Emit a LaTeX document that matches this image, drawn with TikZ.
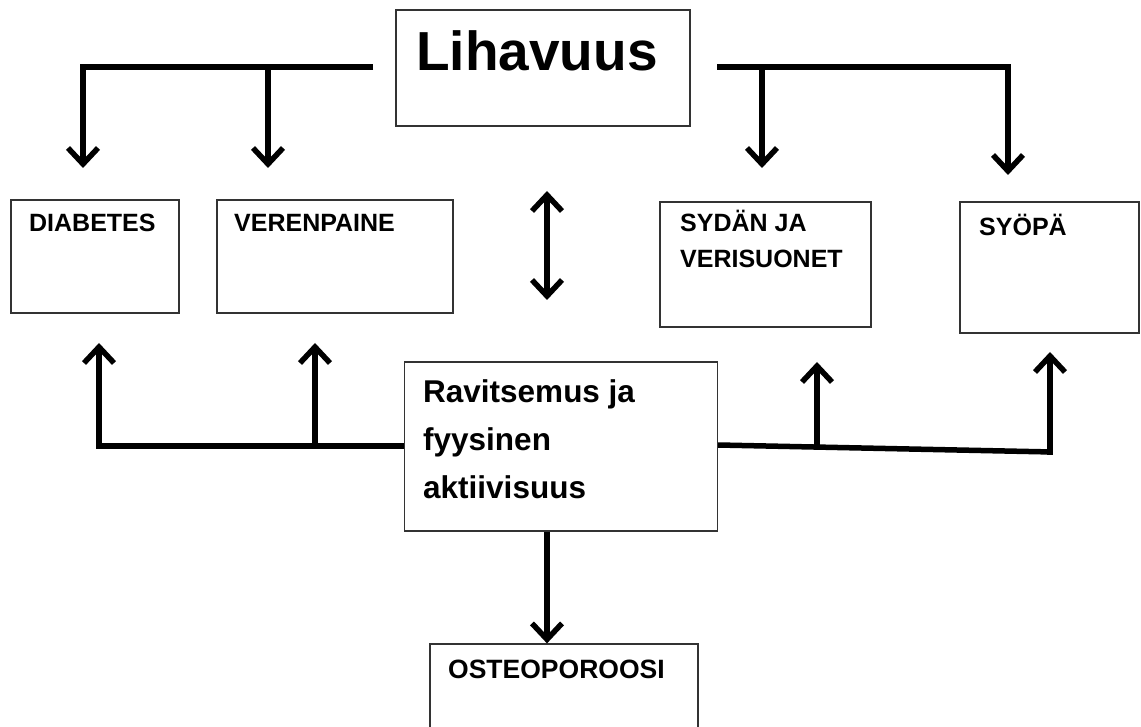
\documentclass[tikz,border=0pt]{standalone}
\usepackage{fontspec}
\setmainfont{Liberation Sans}
\usetikzlibrary{arrows.meta}

\tikzset{
	box/.style={draw=black!80,line width=1.2pt,inner sep=0pt},
	lbl/.style={anchor=base west,inner sep=0pt,font=\bfseries\fontsize{25}{30}\selectfont},
	tip/.tip={Straight Barb[length=16pt,width=30pt,line width=5.5pt]},
	conn/.style={line width=5.5pt,-tip},
	bar/.style={line width=5.5pt}
}

\begin{document}
\begin{tikzpicture}[x=1pt,y=-1pt]
		\useasboundingbox (0,0) rectangle (1141,727);
		% boxes
		\node[box,minimum width=294pt,minimum height=116pt] (liha) at (543,68) {};
		\node[box,minimum width=168pt,minimum height=113pt] (diab) at (95,256.5) {};
		\node[box,minimum width=236pt,minimum height=113pt] (veren) at (335,256.5) {};
		\node[box,minimum width=211pt,minimum height=125pt] (sydan) at (765.5,264.5) {};
		\node[box,minimum width=179pt,minimum height=131pt] (syopa) at (1049.5,267.5) {};
		\node[box,minimum width=313pt,minimum height=169pt] (ravit) at (561,446.5) {};
		\node[box,minimum width=268pt,minimum height=120pt] (osteo) at (564,704) {};
		%
		\node[lbl,font=\bfseries\fontsize{55}{60}\selectfont] (liha-t) at (416,71) {Lihavuus};
		\node[lbl] (diab-t) at (29,232) {DIABETES};
		\node[lbl] (veren-t) at (234,232) {VERENPAINE};
		\node[lbl,align=left] (sydan-t) at (680,268) {SYDÄN JA\\[6pt]VERISUONET};
		\node[lbl] (syopa-t) at (979,236) {SYÖPÄ};
		\node[lbl,align=left,font=\bfseries\fontsize{31.5}{48}\selectfont] (ravit-t) at (423,498)
			{Ravitsemus ja\\fyysinen\\aktiivisuus};
		\node[lbl,font=\bfseries\fontsize{26.5}{30}\selectfont] (osteo-t) at (448,678) {OSTEOPOROOSI};
		%
		\coordinate (tl) at (373,67);
		\coordinate (tr) at (717,67);
		\coordinate (bl) at (ravit.west |- 0,446);
		\coordinate (br) at (ravit.east |- 0,445);
		%
		% Lihavuus -> sairaudet
		\draw[bar] (tl) -- (80.5,67);
		\draw[conn] (83,64.5) -- (83,168);
		\draw[conn] (268,67) -- (268,168);
		\draw[bar] (tr) -- (1010.5,67);
		\draw[conn] (762,67) -- (762,168);
		\draw[conn] (1008,64.5) -- (1008,175);
		%
		\draw[bar,tip-tip] (547,191) -- (547,300);
		%
		% Ravitsemus -> sairaudet
		\draw[bar] (bl) -- (96.5,446);
		\draw[conn] (99,448.5) -- (99,343);
		\draw[conn] (315,446) -- (315,343);
		\draw[bar] (br) -- (1052.5,452);
		\draw[conn] (817,448) -- (817,362);
		\draw[conn] (1050,454.5) -- (1050,352);
		\draw[conn] (ravit.south -| 547,0) -- (osteo.north -| 547,0);
	\end{tikzpicture}
\end{document}
